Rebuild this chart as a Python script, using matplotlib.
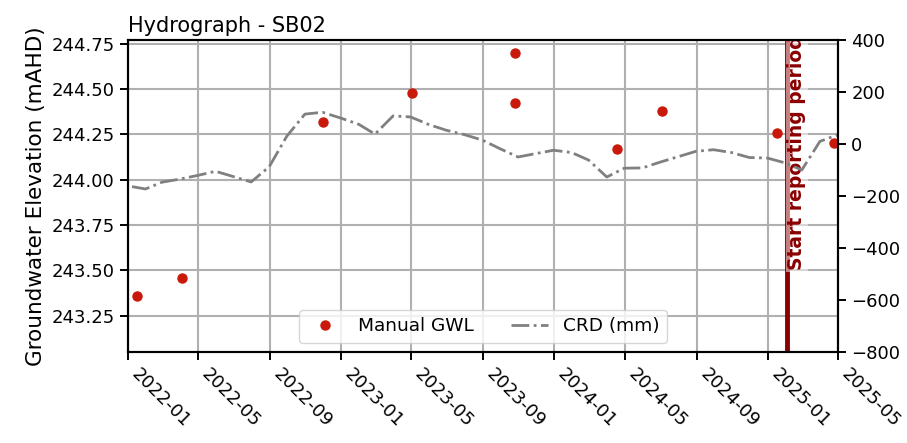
import matplotlib
matplotlib.use("Agg")
import matplotlib.pyplot as plt
import matplotlib.dates as mdates
import pandas as pd

# Manual groundwater level readings (mAHD)
gwl_dates = ["2022-01-17", "2022-04-04", "2022-12-01", "2023-05-02", "2023-10-26",
             "2023-10-26", "2024-04-17", "2024-07-03", "2025-01-16", "2025-04-24"]
gwl_values = [243.36, 243.46, 244.32, 244.48, 244.70, 244.42, 244.17, 244.38, 244.26, 244.20]

# Cumulative rainfall departure (mm)
crd_dates = ["2022-01-08", "2022-01-31", "2022-02-28", "2022-03-31", "2022-04-30", "2022-05-31",
             "2022-06-30", "2022-07-31", "2022-08-31", "2022-09-30", "2022-10-31", "2022-11-30",
             "2022-12-31", "2023-01-31", "2023-02-28", "2023-03-31", "2023-04-30", "2023-05-31",
             "2023-06-30", "2023-07-31", "2023-08-31", "2023-09-30", "2023-10-31", "2023-11-30",
             "2023-12-31", "2024-01-31", "2024-02-29", "2024-03-31", "2024-04-30", "2024-05-31",
             "2024-06-30", "2024-07-31", "2024-08-31", "2024-09-30", "2024-10-31", "2024-11-30",
             "2024-12-31", "2025-01-31", "2025-02-28", "2025-03-31", "2025-04-30"]
crd_values = [-164, -173, -147, -135, -121, -105, -125, -146, -87, 30, 115, 122,
              100, 76, 38, 108, 104, 75, 53, 36, 15, -18, -50, -37,
              -24, -33, -62, -127, -93, -92, -70, -49, -28, -22, -33, -52,
              -54, -73, -100, 10, 35]

report_start = "2025-02-03"

gwl_dates = pd.to_datetime(gwl_dates)
crd_dates = pd.to_datetime(crd_dates)

plt.rcParams["font.family"] = "DejaVu Sans"

fig, ax = plt.subplots(figsize=(9.07, 4.43), dpi=100)
fig.subplots_adjust(left=128 / 907, right=838 / 907, bottom=1 - 352 / 443, top=1 - 40 / 443)

ax.plot(gwl_dates, gwl_values, "o", color="#c8190b", markersize=6.5, label="Manual GWL", zorder=3)
ax.grid(True, color="#b0b0b0", linewidth=1.5)
ax.set_axisbelow(True)

# reporting period marker
ax.axvline(pd.Timestamp(report_start), color="darkred", linewidth=3.5, zorder=4)
ax.text(pd.Timestamp(report_start), 243.5, "Start reporting period", rotation=90,
        color="darkred", fontweight="bold", fontsize=13.5, ha="left", va="bottom",
        bbox=dict(facecolor="white", alpha=0.5, edgecolor="none", pad=1), zorder=5, clip_on=True)

ax.set_ylim(243.05, 244.77)
ax.set_xlim(pd.Timestamp("2022-01-01"), pd.Timestamp("2025-05-01"))
ax.set_ylabel("Groundwater Elevation (mAHD)", fontsize=15.5)
ax.set_title("Hydrograph - SB02", loc="left", fontsize=15)

ax.xaxis.set_major_locator(mdates.MonthLocator(bymonth=[1, 5, 9]))
ax.xaxis.set_major_formatter(mdates.DateFormatter("%Y-%m"))
for lbl in ax.get_xticklabels():
    lbl.set_rotation(-45)
    lbl.set_ha("left")
ax.tick_params(labelsize=13, width=1.4, length=6)

ax2 = ax.twinx()
ax2.plot(crd_dates, crd_values, linestyle="-.", color="grey", linewidth=2, label="CRD (mm)")
ax2.set_ylim(-800, 400)
ax2.tick_params(labelsize=13, width=1.4, length=6)

for a in (ax, ax2):
    for s in a.spines.values():
        s.set_linewidth(1.5)

h1, l1 = ax.get_legend_handles_labels()
h2, l2 = ax2.get_legend_handles_labels()
ax2.legend(h1 + h2, l1 + l2, loc="lower center", ncol=2, fontsize=13.3)

fig.savefig("out.png", dpi=100)
